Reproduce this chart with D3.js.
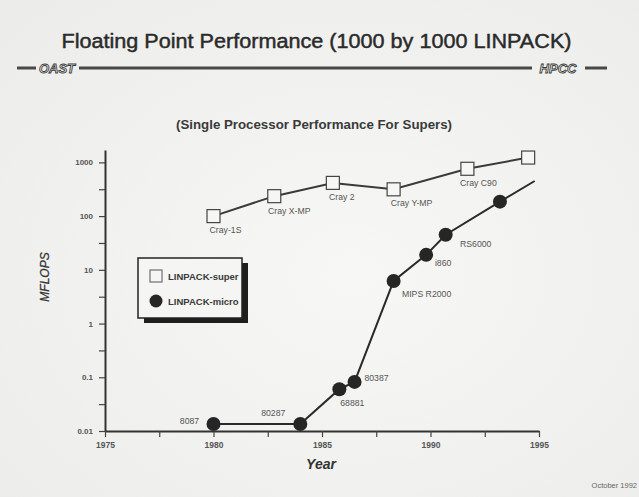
<!DOCTYPE html>
<html>
<head>
<meta charset="utf-8">
<script src="https://cdn.jsdelivr.net/npm/d3@7"></script>
<style>
  body { margin: 0; background: #f1f1ef; }
  svg { display: block; font-family: "Liberation Sans", Arial, sans-serif; }
</style>
</head>
<body>
<div id="container"></div>
<script>
// Chart data
const superYears  = [1980, 1982.8, 1985.5, 1988.3, 1991.7, 1994.5];
const superValues = [100, 235, 415, 315, 760, 1230];
const superNames  = ["Cray-1S", "Cray X-MP", "Cray 2", "Cray Y-MP", "Cray C90", ""];

const microYears  = [1980, 1984, 1985.8, 1986.5, 1988.3, 1989.8, 1990.7, 1993.2];
const microValues = [0.0135, 0.0135, 0.06, 0.082, 6.2, 19, 45, 186];
const microNames  = ["8087", "80287", "68881", "80387", "MIPS R2000", "i860", "RS6000", ""];
// trend line continues past the last marker
const microTrendYear = 1994.8;
const microTrendValue = 450;

const yMajorTicks = [0.01, 0.1, 1, 10, 100, 1000];
const yTickLabels = ["0.01", "0.1", "1", "10", "100", "1000"];
const xMajorTicks = [1975, 1980, 1985, 1990, 1995];
const xMinorTicks = [1977.5, 1982.5, 1987.5, 1992.5];

const width = 639;
const height = 497;

const svg = d3.select("#container")
    .append("svg")
    .attr("width", width)
    .attr("height", height);

//Background with a soft light centre, like the photographed slide
const defs = svg.append("defs");
const grad = defs.append("radialGradient").attr("id", "bg").attr("cx", "55%").attr("cy", "55%").attr("r", "75%");
grad.append("stop").attr("offset", "0%").attr("stop-color", "#f7f7f5");
grad.append("stop").attr("offset", "100%").attr("stop-color", "#ececea");
svg.append("rect").attr("width", width).attr("height", height).attr("fill", "url(#bg)");

//Title and header rule
svg.append("text")
    .attr("x", 316.5).attr("y", 48)
    .attr("text-anchor", "middle")
    .attr("font-size", 20)
    .attr("textLength", 510)
    .attr("lengthAdjust", "spacingAndGlyphs")
    .attr("fill", "#2a2a2a")
    .attr("stroke", "#2a2a2a")
    .attr("stroke-width", 0.45)
    .text("Floating Point Performance (1000 by 1000 LINPACK)");

[[17, 36], [79, 532], [585, 607]].forEach(function (seg) {
    svg.append("line")
        .attr("x1", seg[0]).attr("x2", seg[1])
        .attr("y1", 68).attr("y2", 68)
        .attr("stroke", "#484848")
        .attr("stroke-width", 3);
});
[["OAST", 57], ["HPCC", 558]].forEach(function (t) {
    svg.append("text")
        .attr("x", t[1]).attr("y", 72.5)
        .attr("text-anchor", "middle")
        .attr("font-size", 13)
        .attr("font-weight", "bold")
        .attr("font-style", "italic")
        .attr("fill", "#f3f3f1")
        .attr("stroke", "#3c3c3c")
        .attr("stroke-width", 0.9)
        .text(t[0]);
});

svg.append("text")
    .attr("x", 314).attr("y", 128.5)
    .attr("text-anchor", "middle")
    .attr("font-size", 12.5)
    .attr("font-weight", "bold")
    .attr("textLength", 276)
    .attr("lengthAdjust", "spacingAndGlyphs")
    .attr("fill", "#3a3a3a")
    .text("(Single Processor Performance For Supers)");

//Scales
const xScale = d3.scaleLinear().domain([1975, 1995]).range([105, 539]);
const yScale = d3.scaleLog().domain([0.01, 1700]).range([431, 150]);

//Y axis with half-decade minor ticks
const yMinorTicks = yMajorTicks.slice(0, -1).map(function (v) { return v * Math.sqrt(10); });
const yAxis = d3.axisLeft(yScale)
    .tickValues(yMajorTicks.concat(yMinorTicks))
    .tickFormat(function (d) {
        const i = yMajorTicks.indexOf(d);
        return i >= 0 ? yTickLabels[i] : "";
    })
    .tickSize(6)
    .tickSizeOuter(0)
    .tickPadding(6);

const gy = svg.append("g")
    .attr("id", "y-axis")
    .attr("transform", "translate(105,0)")
    .call(yAxis);
gy.select(".domain").attr("stroke", "#333").attr("stroke-width", 2);
gy.selectAll(".tick line").attr("stroke", "#444").attr("stroke-width", 1.2);
gy.selectAll(".tick text")
    .attr("font-size", 8)
    .attr("font-weight", "bold")
    .attr("font-family", "Liberation Sans, Arial, sans-serif")
    .attr("fill", "#555");

//X axis
const xAxis = d3.axisBottom(xScale)
    .tickValues(xMajorTicks.concat(xMinorTicks))
    .tickFormat(function (d) { return xMajorTicks.indexOf(d) >= 0 ? d : ""; })
    .tickSize(6)
    .tickSizeOuter(0)
    .tickPadding(5);

const gx = svg.append("g")
    .attr("id", "x-axis")
    .attr("transform", "translate(0,431)")
    .call(xAxis);
gx.select(".domain").attr("stroke", "#333").attr("stroke-width", 2);
gx.selectAll(".tick line").attr("stroke", "#444").attr("stroke-width", 1.2);
gx.selectAll(".tick text")
    .attr("font-size", 8.5)
    .attr("font-weight", "bold")
    .attr("font-family", "Liberation Sans, Arial, sans-serif")
    .attr("fill", "#555");

//Axis titles
svg.append("text")
    .attr("transform", "translate(49,277) rotate(-90)")
    .attr("text-anchor", "middle")
    .attr("font-size", 12)
    .attr("font-style", "italic")
    .attr("fill", "#333")
    .attr("stroke", "#333")
    .attr("stroke-width", 0.25)
    .text("MFLOPS");

svg.append("text")
    .attr("x", 321).attr("y", 469)
    .attr("text-anchor", "middle")
    .attr("font-size", 14)
    .attr("font-weight", "bold")
    .attr("font-style", "italic")
    .attr("fill", "#333")
    .text("Year");

svg.append("text")
    .attr("x", 637).attr("y", 488)
    .attr("text-anchor", "end")
    .attr("font-size", 7.5)
    .attr("fill", "#666")
    .text("October 1992");

//Series lines
const line = d3.line()
    .x(function (d) { return xScale(d[0]); })
    .y(function (d) { return yScale(d[1]); });

const superPts = superYears.map(function (y, i) { return [y, superValues[i], superNames[i]]; });
const microPts = microYears.map(function (y, i) { return [y, microValues[i], microNames[i]]; });

svg.append("path")
    .datum(superPts)
    .attr("d", line)
    .attr("fill", "none")
    .attr("stroke", "#3a3a3a")
    .attr("stroke-width", 2);

svg.append("path")
    .datum(microPts.concat([[microTrendYear, microTrendValue]]))
    .attr("d", line)
    .attr("fill", "none")
    .attr("stroke", "#2a2a2a")
    .attr("stroke-width", 2);

//Markers
const sq = 13;
svg.selectAll("rect.super")
    .data(superPts)
    .enter()
    .append("rect")
    .attr("class", "super")
    .attr("x", function (d) { return xScale(d[0]) - sq / 2; })
    .attr("y", function (d) { return yScale(d[1]) - sq / 2; })
    .attr("width", sq)
    .attr("height", sq)
    .attr("fill", "#f6f6f4")
    .attr("stroke", "#444")
    .attr("stroke-width", 1.2);

svg.selectAll("circle.micro")
    .data(microPts)
    .enter()
    .append("circle")
    .attr("class", "micro")
    .attr("cx", function (d) { return xScale(d[0]); })
    .attr("cy", function (d) { return yScale(d[1]); })
    .attr("r", 7)
    .attr("fill", "#262626");

//Point labels, offset from their marker
const superOffsets = [[12, 14], [15, 15], [9, 14], [18, 14], [11, 14], [0, 0]];
const microOffsets = [[-24, -3], [-27, -11], [13, 14], [22, -4], [33, 13], [17, 8], [30, 9], [0, 0]];

function addLabels(pts, offsets) {
    svg.append("g")
        .selectAll("text")
        .data(pts.filter(function (d) { return d[2] !== ""; }))
        .enter()
        .append("text")
        .attr("x", function (d) { return xScale(d[0]) + offsets[pts.indexOf(d)][0]; })
        .attr("y", function (d) { return yScale(d[1]) + offsets[pts.indexOf(d)][1]; })
        .attr("text-anchor", "middle")
        .attr("dominant-baseline", "central")
        .attr("font-size", 8.7)
        .attr("fill", "#555")
        .text(function (d) { return d[2]; });
}
addLabels(superPts, superOffsets);
addLabels(microPts, microOffsets);

//Legend with drop shadow
const legend = svg.append("g").attr("transform", "translate(138,258)");
legend.append("rect")
    .attr("x", 6).attr("y", 5)
    .attr("width", 104).attr("height", 60)
    .attr("fill", "#1e1e1e");
legend.append("rect")
    .attr("width", 104).attr("height", 60)
    .attr("fill", "#f5f5f3")
    .attr("stroke", "#222")
    .attr("stroke-width", 1.5);
legend.append("rect")
    .attr("x", 12).attr("y", 12)
    .attr("width", 12).attr("height", 12)
    .attr("fill", "#f6f6f4")
    .attr("stroke", "#555")
    .attr("stroke-width", 1);
legend.append("circle")
    .attr("cx", 18).attr("cy", 43)
    .attr("r", 6.5)
    .attr("fill", "#262626");
[["LINPACK-super", 18.5], ["LINPACK-micro", 43]].forEach(function (t) {
    legend.append("text")
        .attr("x", 30).attr("y", t[1])
        .attr("dominant-baseline", "central")
        .attr("font-size", 9.5)
        .attr("font-weight", "bold")
        .attr("fill", "#3a3a3a")
        .text(t[0]);
});
</script>
</body>
</html>
